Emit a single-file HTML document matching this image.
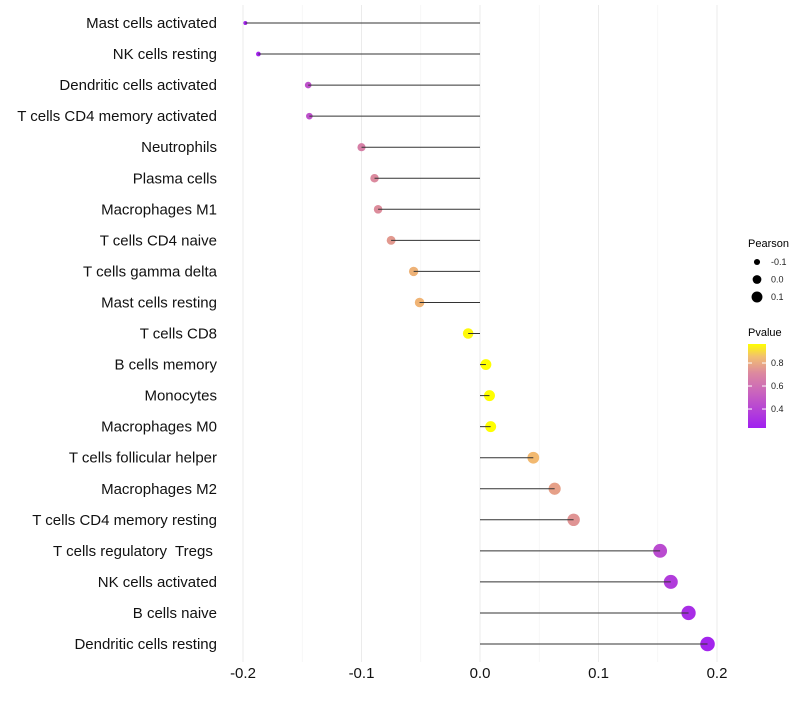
<!DOCTYPE html>
<html><head><meta charset="utf-8"><style>
body{margin:0;background:#fff;font-family:"Liberation Sans",sans-serif;}
svg text{font-family:"Liberation Sans",sans-serif;white-space:pre;}
</style></head><body>
<svg id="chart" width="800" height="700" xmlns="http://www.w3.org/2000/svg">
<g id="grid"></g>
<g id="dots"></g>
<g id="marks"></g>
<g id="ylabels"></g>
<g id="xlabels"></g>
<g id="legend">
<text x="748" y="247" font-size="11" fill="#000">Pearson</text>
<text x="748" y="336" font-size="11" fill="#000">Pvalue</text>
<defs><linearGradient id="pg" x1="0" y1="1" x2="0" y2="0">
<stop offset="0" stop-color="#a020f0"/><stop offset="0.4" stop-color="#c760c0"/><stop offset="0.65" stop-color="#dc88a0"/><stop offset="0.85" stop-color="#f2c070"/><stop offset="1" stop-color="#ffff00"/></linearGradient></defs>
<rect x="748" y="344" width="18" height="84" fill="url(#pg)"/>
</g>
</svg>
<script>
const categories=["Mast cells activated","NK cells resting","Dendritic cells activated","T cells CD4 memory activated","Neutrophils","Plasma cells","Macrophages M1","T cells CD4 naive","T cells gamma delta","Mast cells resting","T cells CD8","B cells memory","Monocytes","Macrophages M0","T cells follicular helper","Macrophages M2","T cells CD4 memory resting","T cells regulatory  Tregs ","NK cells activated","B cells naive","Dendritic cells resting"];
const pearson=[-0.198,-0.187,-0.145,-0.144,-0.100,-0.089,-0.086,-0.075,-0.056,-0.051,-0.010,0.005,0.008,0.009,0.045,0.063,0.079,0.152,0.161,0.176,0.192];
const pvalue=[0.25,0.25,0.40,0.40,0.57,0.61,0.62,0.67,0.77,0.78,0.95,0.97,0.97,0.97,0.80,0.70,0.65,0.38,0.33,0.28,0.25];
const xTicks=[-0.2,-0.1,0.0,0.1,0.2];
const xTickLabels=["-0.2","-0.1","0.0","0.1","0.2"];
const pearsonLegend=[-0.1,0.0,0.1];
const pvalueLegend=[0.8,0.6,0.4];
const NS="http://www.w3.org/2000/svg";
const xS=v=>480+v*1185;
const yS=i=>23+i*31.05;
const rS=v=>Math.sqrt(4+125*Math.max(0,v+0.2));
const pS=p=>428-(p-0.235)*115;
const stops=[[0.235,[160,32,240]],[0.45,[199,96,192]],[0.6,[218,135,160]],[0.8,[242,185,112]],[0.965,[255,255,0]]];
function col(p){if(p<=stops[0][0])return "rgb("+stops[0][1]+")";for(let i=1;i<stops.length;i++){if(p<=stops[i][0]){const a=stops[i-1],b=stops[i],t=(p-a[0])/(b[0]-a[0]);return "rgb("+a[1].map((c,k)=>Math.round(c+(b[1][k]-c)*t)).join(",")+")";}}return "rgb(255,255,0)";}
function mk(t,a,parent){const e=document.createElementNS(NS,t);for(const k in a)e.setAttribute(k,a[k]);document.getElementById(parent).appendChild(e);return e;}
const minor=[-0.15,-0.05,0.05,0.15];
minor.forEach(v=>{const l=mk("line",{x1:xS(v),x2:xS(v),y1:5,y2:662,stroke:"#f3f3f3","stroke-width":0.6},"grid");

});
xTicks.forEach((v,i)=>{const l=mk("line",{x1:xS(v),x2:xS(v),y1:5,y2:662,stroke:"#ebebeb","stroke-width":1},"grid");


const t=mk("text",{x:xS(v),y:678,"text-anchor":"middle","font-size":15,fill:"#111"},"xlabels");t.textContent=xTickLabels[i];

});
categories.forEach((c,i)=>{const y=yS(i);
const t=mk("text",{x:217,y:y+5,"text-anchor":"end","font-size":15,fill:"#111"},"ylabels");t.textContent=c;


const d=mk("circle",{cx:xS(pearson[i]),cy:y,r:rS(pearson[i]),fill:col(pvalue[i])},"dots");


const l=mk("line",{x1:xS(0),x2:xS(pearson[i]),y1:y,y2:y,stroke:"#333","stroke-width":1},"marks");

});
pearsonLegend.forEach((v,i)=>{const y=262+i*17.5;
const d=mk("circle",{cx:757,cy:y,r:rS(v)-1,fill:"#000"},"legend");


const t=mk("text",{x:771,y:y+3,"font-size":9,fill:"#222"},"legend");t.textContent=v.toFixed(1);

});
pvalueLegend.forEach(v=>{const y=pS(v);
const t=mk("text",{x:771,y:y+3,"font-size":9,fill:"#222"},"legend");t.textContent=v.toFixed(1);


[748,762].forEach(x=>{const l=mk("line",{x1:x,x2:x+4,y1:y,y2:y,stroke:"#fff","stroke-width":1},"legend");

});});
</script>
</body></html>
